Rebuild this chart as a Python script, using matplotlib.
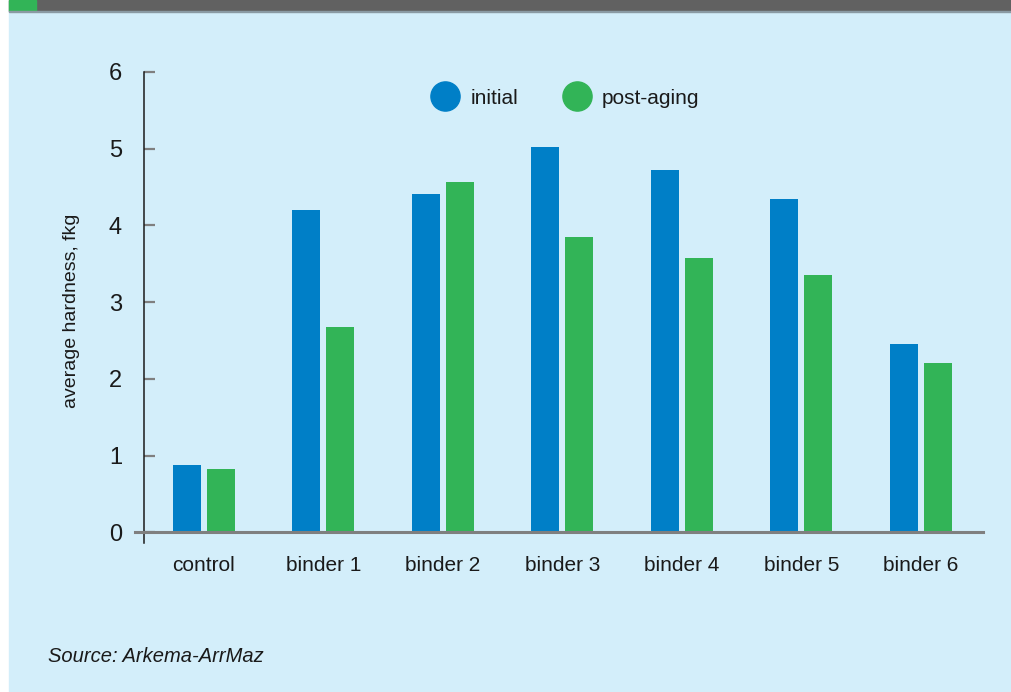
import numpy as np
import matplotlib
matplotlib.use("Agg")
import matplotlib.pyplot as plt
from matplotlib.lines import Line2D
from matplotlib.patches import Rectangle

plt.rcParams["font.family"] = ["Liberation Sans Narrow", "Liberation Sans", "DejaVu Sans"]

# average hardness (fkg) per sample, before and after aging
categories = ["control", "binder 1", "binder 2", "binder 3", "binder 4", "binder 5", "binder 6"]
initial = [0.88, 4.20, 4.41, 5.02, 4.72, 4.34, 2.46]
post_aging = [0.82, 2.68, 4.57, 3.85, 3.58, 3.36, 2.21]
yticks = [0, 1, 2, 3, 4, 5, 6]

C_INIT = "#007FC7"
C_POST = "#32B457"
C_BG = "#D3EEFA"
C_BAR_TOP = "#616161"

W, H = 1011, 692
fig = plt.figure(figsize=(W / 100, H / 100), dpi=100)
fig.patch.set_facecolor("white")

# page background, header strip and green tab
fig.patches.append(Rectangle((9 / W, 0), 1, 1 - 11 / H, transform=fig.transFigure,
                             color=C_BG, zorder=-3))
fig.patches.append(Rectangle((9 / W, 1 - 11 / H), 1, 11 / H, transform=fig.transFigure,
                             color=C_BAR_TOP, zorder=-3))
fig.patches.append(Rectangle((9 / W, 1 - 11 / H), 27 / W, 11 / H, transform=fig.transFigure,
                             color=C_POST, zorder=-2))
fig.patches.append(Rectangle((9 / W, 1 - 12 / H), 1, 1 / H, transform=fig.transFigure,
                             color="#8A9AA3", zorder=-2))

# axes spanning pixel x 135..983, y 72..543
ax = fig.add_axes([135 / W, 1 - 543 / H, (983 - 135) / W, (543 - 72) / H])
ax.set_facecolor("none")
ax.set_zorder(5)

x = np.arange(len(categories))
bw = 0.234
off = 0.142
ax.bar(x - off, initial, width=bw, color=C_INIT, zorder=2)
ax.bar(x + off, post_aging, width=bw, color=C_POST, zorder=2)

ax.set_xlim(-0.577, 6.52)
ax.set_ylim(-0.14, 6)

for s in ("top", "right"):
    ax.spines[s].set_visible(False)
ax.spines["left"].set_position(("data", -0.5))
ax.spines["left"].set_bounds(-0.14, 6)
ax.spines["left"].set_color("#1a1a1a")
ax.spines["left"].set_linewidth(1.1)
ax.spines["bottom"].set_position(("data", 0))
ax.spines["bottom"].set_color("#7f7f7f")
ax.spines["bottom"].set_linewidth(2.2)
ax.spines["bottom"].set_zorder(3)

ax.set_yticks(yticks)
ax.set_yticklabels([str(v) for v in yticks])
ax.tick_params(axis="y", direction="in", length=8, width=1.6, color="#7f7f7f",
               labelsize=17, pad=16, labelcolor="#1a1a1a")
ax.set_xticks(x)
ax.set_xticklabels(categories)
ax.tick_params(axis="x", length=0, labelsize=15, pad=17, labelcolor="#1a1a1a")

fig.text(72 / W, 1 - 311 / H, "average hardness, fkg", rotation=90,
         ha="center", va="center", fontsize=14, color="#1a1a1a")

handles = [Line2D([], [], ls="none", marker="o", markersize=21, color=C_INIT),
           Line2D([], [], ls="none", marker="o", markersize=21, color=C_POST)]
fig.legend(handles, ["initial", "post-aging"], loc="center",
           bbox_to_anchor=(566 / W, 1 - 98 / H), ncol=2, frameon=False,
           fontsize=15, handletextpad=0.6, columnspacing=2.2, handlelength=1.2,
           labelcolor="#1a1a1a")

fig.text(48 / W, 1 - 656 / H, "Source: Arkema-ArrMaz", style="italic",
         ha="left", va="center", fontsize=14.5, color="#1a1a1a",
         family=["Liberation Sans", "DejaVu Sans"])

fig.savefig("out.png", dpi=100)
